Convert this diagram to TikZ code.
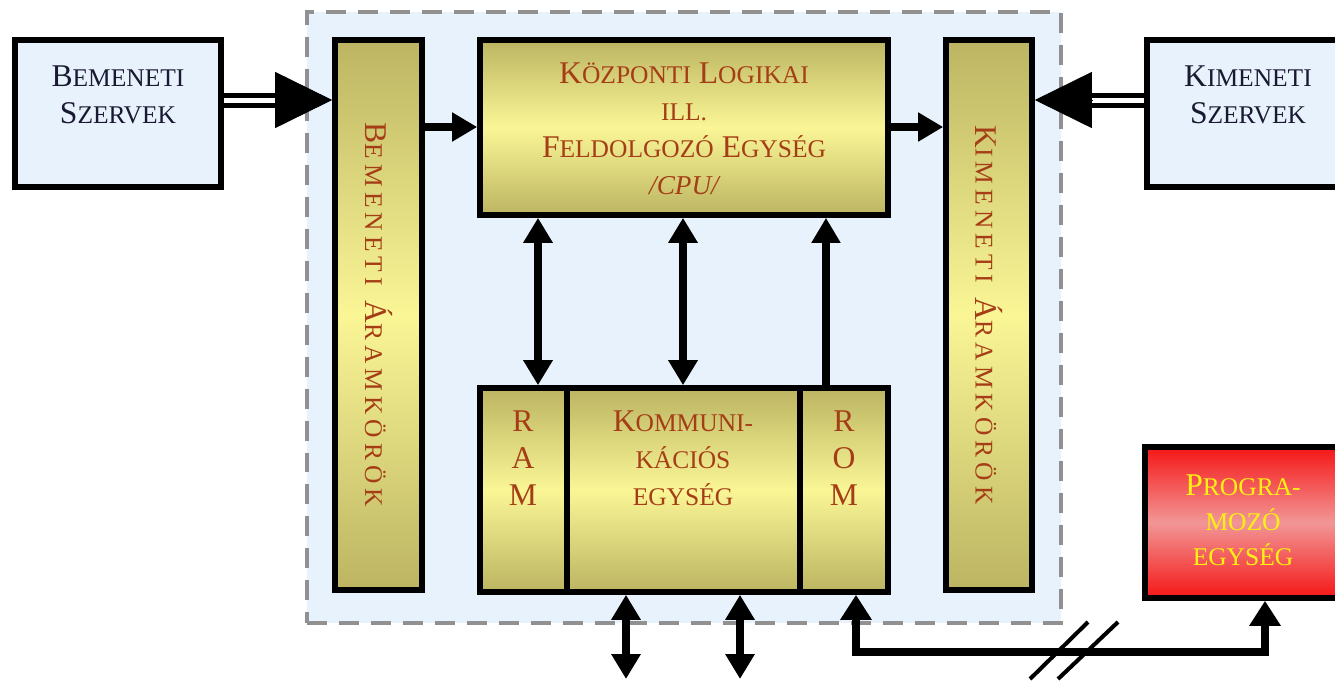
\documentclass[tikz,border=0pt]{standalone}
\usepackage{fontspec}
\setmainfont{Liberation Serif}
\usetikzlibrary{arrows.meta,fit,calc}
\definecolor{lblue}{RGB}{232,242,252}
\definecolor{goldE}{RGB}{188,180,98}
\definecolor{goldM}{RGB}{250,246,150}
\definecolor{txtred}{RGB}{165,62,22}
\definecolor{navy}{RGB}{25,25,50}
\definecolor{dgray}{RGB}{145,145,145}
\definecolor{redE}{RGB}{245,22,22}
\definecolor{redM}{RGB}{242,150,150}
\definecolor{yel}{RGB}{255,240,20}
\newcommand\sm[1]{{\fontsize{14.5}{12}\selectfont #1}}
\tikzset{
  box/.style={draw=black, line width=3.2pt, inner sep=0pt},
  bluebox/.style={box, fill=lblue},
  goldbox/.style={box, top color=goldE, bottom color=goldE, middle color=goldM},
  redbox/.style={box, top color=redE, bottom color=redE, middle color=redM},
  lbl/.style={font=\fontsize{18}{21}\selectfont, align=center, text=txtred},
  nlbl/.style={font=\fontsize{18}{21}\selectfont, align=center, text=navy},
  ylbl/.style={font=\fontsize{18}{20}\selectfont, align=center, text=yel},
  vlbl/.style={font=\fontsize{18}{21}\selectfont\addfontfeature{LetterSpace=20}, text=txtred, rotate=-90},
  dbl/.style={draw=black, line width=0.1cm, double=white, double distance=0.1cm},
  bigtip/.style={line width=0.5pt, -{Triangle[length=1.14cm,width=1.12cm]}},
  arr/.style={line width=4pt, -{Triangle[length=0.5cm,width=0.55cm]}},
  darr/.style={line width=4pt, {Triangle[length=0.5cm,width=0.56cm]}-{Triangle[length=0.5cm,width=0.56cm]}},
  parr/.style={line width=5pt, line join=miter, {Triangle[length=0.5cm,width=0.6cm]}-{Triangle[length=0.5cm,width=0.6cm]}},
  region/.style={draw=dgray, fill=lblue, line width=2.8pt, dash pattern=on 0.4cm off 0.24cm, inner sep=0pt}
}
\begin{document}
\begin{tikzpicture}[x=0.02cm,y=-0.02cm]
\useasboundingbox (0,0) rectangle (1335,681);
% region
\node[region, fit={(307,12)(1061,623)}] (reg) {};
% outer boxes
\node[bluebox, fit={(15,40)(221,187)}] (bsz) {};
\node[bluebox, fit={(1147,40)(1360,187)}] (ksz) {};
\node[redbox, fit={(1145,447)(1360,598)}] (prog) {};
% inner boxes
\node[goldbox, fit={(335,40)(422,590)}] (bak) {};
\node[goldbox, fit={(946,40)(1032,590)}] (kak) {};
\node[goldbox, fit={(480,40)(888,215)}] (cpu) {};
\node[goldbox, fit={(480,388)(567,592)}] (ram) {};
\node[goldbox, fit={(567,388)(800,592)}] (komm) {};
\node[goldbox, fit={(800,388)(888,592)}] (rom) {};
% texts
\node[nlbl] (tbsz) at (118,95) {B\sm{EMENETI}\\S\sm{ZERVEK}};
\node[nlbl] (tksz) at (1248,95) {K\sm{IMENETI}\\S\sm{ZERVEK}};
\node[ylbl] (tprog) at (1243,520) {P\sm{ROGRA-}\\\sm{MOZÓ}\\\sm{EGYSÉG}};
\node[lbl] (tcpu) at (684,129) {K\sm{ÖZPONTI} L\sm{OGIKAI}\\\sm{ILL.}\\F\sm{ELDOLGOZÓ} E\sm{GYSÉG}\\{\fontsize{15.5}{21}\selectfont\itshape /CPU/}};
\node[lbl] (tram) at (523,458) {R\\A\\M};
\node[lbl] (trom) at (844,458) {R\\O\\M};
\node[lbl] (tkomm) at (683,458) {K\sm{OMMUNI-}\\\sm{KÁCIÓS}\\\sm{EGYSÉG}};
\node[vlbl] (tbak) at (bak.center) {B\sm{EMENETI} Á\sm{RAMKÖRÖK}};
\node[vlbl] (tkak) at (kak.center) {K\sm{IMENETI} Á\sm{RAMKÖRÖK}};
% big double arrows
\draw[dbl] (bsz.east |- 0,100) -- ($(bak.west |- 0,100)+(-50,0)$);
\draw[bigtip] ($(bak.west |- 0,100)+(-57,0)$) -- (bak.west |- 0,100);
\draw[dbl] (ksz.west |- 0,100) -- ($(kak.east |- 0,100)+(50,0)$);
\draw[bigtip] ($(kak.east |- 0,100)+(58,0)$) -- (kak.east |- 0,100);
% horizontal arrows
\draw[arr] (bak.east |- 0,127) -- (cpu.west |- 0,127);
\draw[arr] (cpu.east |- 0,127) -- (kak.west |- 0,127);
% vertical arrows
\draw[darr] (538,0 |- cpu.south) -- (538,0 |- ram.north);
\draw[darr] (683,0 |- cpu.south) -- (683,0 |- komm.north);
\draw[arr] (826,0 |- rom.north) -- (826,0 |- cpu.south);
% bottom arrows
\coordinate (o1) at (626,679);
\coordinate (o2) at (740,679);
\draw[darr] (626,0 |- komm.south) -- (o1);
\draw[darr] (740,0 |- komm.south) -- (o2);
% ROM - programozo
\draw[parr] (856,0 |- rom.south) -- (856,652) -- (1265,652) -- (1265,0 |- prog.south);
% slashes
\draw[line width=2.3pt] (1030,679) -- (1088,622);
\draw[line width=2.3pt] (1058,679) -- (1118,622);
\end{tikzpicture}
\end{document}
